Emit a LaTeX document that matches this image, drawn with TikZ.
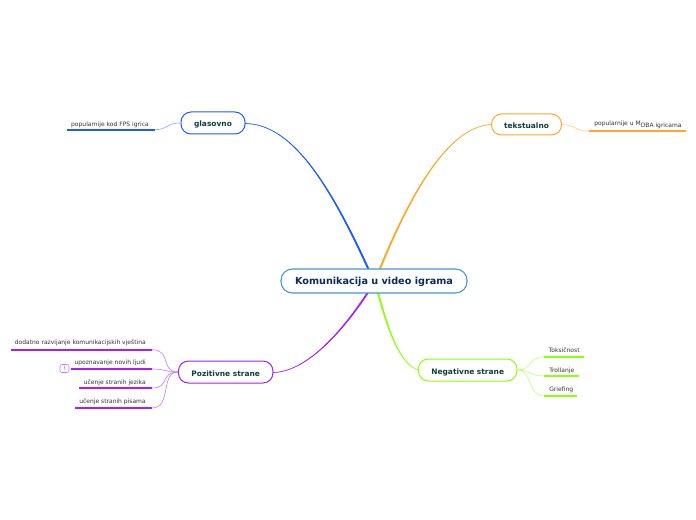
\documentclass[tikz,border=0pt]{standalone}
\usepackage{fontspec}
\setmainfont{DejaVu Sans}
\definecolor{cblue}{HTML}{1A5CFF}
\definecolor{corange}{HTML}{FFA726}
\definecolor{cpurple}{HTML}{AA1EF5}
\definecolor{cgreen}{HTML}{8CFF0A}
\definecolor{croot}{HTML}{3F98D6}
\definecolor{troot}{HTML}{0C2A5C}
\definecolor{tbranch}{HTML}{0E3F35}
\definecolor{tleaf}{HTML}{333333}
\newlength{\pxu}
\setlength{\pxu}{0.75pt}
\tikzset{
  rootbox/.style={draw=croot,line width=0.8pt,rounded corners=8.5pt,inner sep=0pt,minimum width=186\pxu,minimum height=24\pxu,text height=6pt,text depth=0pt,font=\fontsize{7.25pt}{9pt}\bfseries,text=troot,fill=white},
  branchbox/.style={draw=#1,line width=0.75pt,rounded corners=7.5pt,inner sep=0pt,text height=6pt,text depth=0pt,font=\fontsize{5.6pt}{7pt}\bfseries,text=tbranch,fill=white},
  leaftext/.style={inner sep=0pt,font=\fontsize{4.5pt}{5pt}\selectfont,text=tleaf},
  leafline/.style={draw=#1,line width=1.4pt},
  mainlink/.style={draw=#1,fill=#1,line width=0.5pt,line join=round},
  sublink/.style={draw=#1,line width=0.45pt},
  flagbox/.style={draw=cpurple!60,line width=0.4pt,rounded corners=1.5pt,inner sep=0pt,minimum width=9\pxu,minimum height=8\pxu,font=\fontsize{4pt}{5pt}\selectfont,text=cpurple},
}
\begin{document}
\begin{tikzpicture}[x=0.75pt,y=-0.75pt]
\useasboundingbox (0,0) rectangle (696,520);
% main links (tapered, under the boxes)
\coordinate (bg) at (245,123.5);
\coordinate (bt) at (491.5,124.5);
\coordinate (bp) at (273,372.5);
\coordinate (bn) at (418.5,370);
\draw[mainlink=cblue] (bg) .. controls (290,124) and (327.5,178) .. (370,271) -- (368.6,271) .. controls (326.5,178) and (290,124) .. (bg) -- cycle;
\draw[mainlink=corange] (bt) .. controls (453,126) and (416.5,180) .. (379.7,271) -- (378.3,271) .. controls (415.5,180) and (453,126) .. (bt) -- cycle;
\draw[mainlink=cpurple] (bp) .. controls (305,372) and (340.5,335) .. (369,292) -- (367.6,292) .. controls (339.5,335) and (305,372) .. (bp) -- cycle;
\draw[mainlink=cgreen] (bn) .. controls (400,365) and (388.5,330) .. (378.5,292) -- (377.1,292) .. controls (387.5,330) and (400,365) .. (bn) -- cycle;
% root
\node[rootbox] (root) at (374,281) {Komunikacija u video igrama};
% branches
\node[branchbox=cblue,minimum width=64\pxu,minimum height=22\pxu] (glas) at (213,123) {glasovno};
\node[branchbox=corange,minimum width=70\pxu,minimum height=21\pxu] (teks) at (526.5,124.5) {tekstualno};
\node[branchbox=cpurple,minimum width=94.5\pxu,minimum height=22\pxu] (poz) at (225.7,372) {Pozitivne strane};
\node[branchbox=cgreen,minimum width=98.5\pxu,minimum height=22\pxu] (neg) at (467.7,370) {Negativne strane};
% leaf underlines
\coordinate (l1a) at (67,129.7); \coordinate (l1b) at (155,129.7);
\coordinate (l2a) at (589,131); \coordinate (l2b) at (686,131);
\coordinate (p1a) at (11,349.7); \coordinate (p1b) at (152,349.7);
\coordinate (p2a) at (71,369); \coordinate (p2b) at (152,369);
\coordinate (p3a) at (79,388); \coordinate (p3b) at (152,388);
\coordinate (p4a) at (75,408); \coordinate (p4b) at (152,408);
\coordinate (n1a) at (544,356.7); \coordinate (n1b) at (584,356.7);
\coordinate (n2a) at (544,376); \coordinate (n2b) at (579,376);
\coordinate (n3a) at (544,396); \coordinate (n3b) at (577,396);
\draw[leafline=cblue] (l1a) -- (l1b);
\draw[leafline=corange] (l2a) -- (l2b);
\foreach \n in {1,2,3,4} \draw[leafline=cpurple] (p\n a) -- (p\n b);
\foreach \n in {1,2,3} \draw[leafline=cgreen] (n\n a) -- (n\n b);
% leaf links
\draw[sublink=cblue!55] (l1b) .. controls (168,129.7) and (166,123) .. (glas.west);
\draw[sublink=corange!55] (teks.east) .. controls (576,125) and (574,131) .. (l2a);
\draw[sublink=cpurple!60] (p1b) .. controls (172,349.7) and (160,372) .. (poz.west);
\draw[sublink=cpurple!60] (p2b) .. controls (165,369) and (165,372) .. (poz.west);
\draw[sublink=cpurple!60] (p3b) .. controls (170,388) and (160,372) .. (poz.west);
\draw[sublink=cpurple!60] (p4b) .. controls (172,408) and (160,372) .. (poz.west);
\draw[sublink=cgreen!60] (neg.east) .. controls (532,370) and (528,356.7) .. (n1a);
\draw[sublink=cgreen!60] (neg.east) .. controls (530,370) and (530,376) .. (n2a);
\draw[sublink=cgreen!60] (neg.east) .. controls (532,370) and (528,396) .. (n3a);
% leaf texts
\node[leaftext,anchor=base east] (t1) at (149,126.3) {popularnije kod FPS igrica};
\node[leaftext,anchor=base west] (t2) at (594,127.3) {\raisebox{1pt}{popularnije u M}OBA igricama};
\node[leaftext,anchor=base east] (q1) at (146,344.5) {dodatno razvijanje komunikacijskih vještina};
\node[leaftext,anchor=base east] (q2) at (146,364) {upoznavanje novih ljudi};
\node[leaftext,anchor=base east] (q3) at (146,384) {učenje stranih jezika};
\node[leaftext,anchor=base east] (q4) at (146,403) {učenje stranih pisama};
\node[leaftext,anchor=base west] (m1) at (548.5,352) {Toksičnost};
\node[leaftext,anchor=base west] (m2) at (549,372) {Trollanje};
\node[leaftext,anchor=base west] (m3) at (549,391) {Griefing};
\node[flagbox] (flag) at (64.5,368.5) {!};
\end{tikzpicture}
\end{document}
